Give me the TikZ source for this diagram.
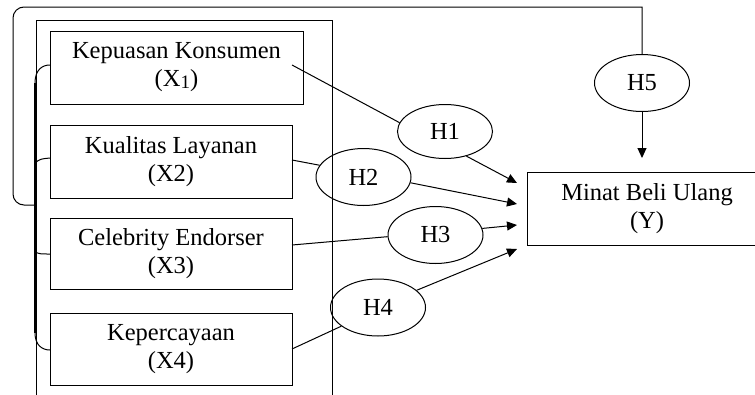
\documentclass[tikz,border=0pt]{standalone}
\usepackage{fontspec}
\setmainfont{Liberation Serif}
\usetikzlibrary{arrows.meta,shapes.geometric}
\begin{document}
\begin{tikzpicture}[x=1pt,y=-1pt,
  every node/.style={font=\fontsize{24.5}{28}\selectfont},
  varbox/.style={draw, line width=1pt, align=center, inner sep=0pt},
  hyp/.style={draw, ellipse, line width=1pt, minimum width=95pt, minimum height=57pt, inner sep=0pt},
  link/.style={line width=1pt},
  brace/.style={line width=1.8pt},
  arr/.style={link, -{Triangle[length=10pt,width=9pt]}}]
\useasboundingbox (0,0) rectangle (755,394);
\clip (0,0) rectangle (755,394);

% outer box (open at bottom)
\draw[link] (36,400) -- (36,20) -- (332,20) -- (332,400);

% variable boxes
\node[varbox, minimum width=253pt, minimum height=73pt] (X1) at (176.5,67.5) {Kepuasan Konsumen\\(X{\fontsize{19}{19}\selectfont\raisebox{-2pt}{1}})};
\node[varbox, minimum width=242pt, minimum height=73pt] (X2) at (171,161.5) {Kualitas Layanan\\(X2)};
\node[varbox, minimum width=242pt, minimum height=71pt] (X3) at (171,253.5) {Celebrity Endorser\\(X3)};
\node[varbox, minimum width=242pt, minimum height=72pt] (X4) at (171,349) {Kepercayaan\\(X4)};
\node[varbox, minimum width=240pt, minimum height=73pt] (Y) at (647,208.5) {Minat Beli Ulang\\(Y)};

% hypothesis ellipses
\node[hyp, minimum height=54pt] (H1) at (445,131.5) {H1};
\node[hyp] (H2) at (363.5,177) {H2};
\node[hyp] (H3) at (435.5,235) {H3};
\node[hyp] (H4) at (378,307.5) {H4};
\node[hyp] (H5) at (642,83) {H5};

% coordinates
\coordinate (s1) at (292,65);
\coordinate (s2) at (292,160);
\coordinate (s3) at (292,245);
\coordinate (s4) at (292,349);
\coordinate (t1) at (517,183);
\coordinate (t2) at (517,204);
\coordinate (t3) at (517,225);
\coordinate (t4) at (517,249);
\coordinate (t5) at (642,158);
\coordinate (loopend) at (35,205);
\coordinate (bt) at (35,83);
\coordinate (bb) at (35,333);

% left brace
\draw[brace] (bt) -- (bb);
\draw[link] (bt) .. controls (35,70) and (42,65) .. (50,65);
\draw[link] (35,163) .. controls (40,159) .. (50,158);
\draw[link] (35,252) .. controls (40,254) .. (50,254);
\draw[link] (bb) .. controls (35,345) and (42,350) .. (50,350);

% loop to H5
\draw[link] (loopend) [rounded corners=11pt] -| (13,7) -- (100,7) [sharp corners] -- (642,7) -- (H5.north);
\draw[arr] (H5.south) -- (t5);

% paths
\draw[link] (s1) -- (H1.169);
\draw[arr] (H1.-49) -- (t1);
\draw[link] (s2) -- (H2.165);
\draw[arr] (H2.-7) -- (t2);
\draw[link] (s3) -- (H3.182);
\draw[arr] (H3.8) -- (t3);
\draw[link] (s4) -- (H4.207);
\draw[arr] (H4.24) -- (t4);
\end{tikzpicture}
\end{document}
